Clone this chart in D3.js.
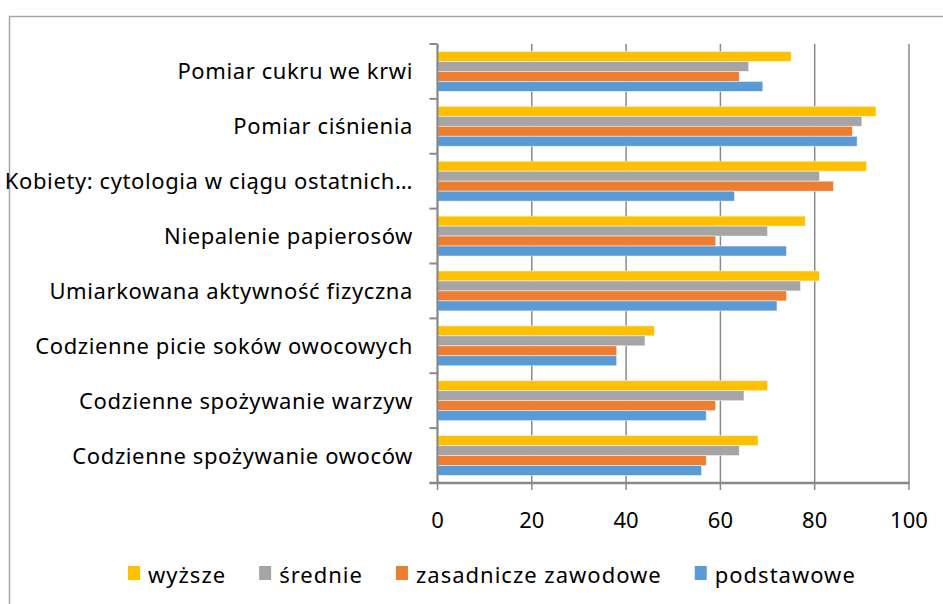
<!DOCTYPE html>
<html>
<head>
<meta charset="utf-8">
<script src="https://cdn.jsdelivr.net/npm/d3@7"></script>
<style>
  body { margin: 0; background: #fff; }
  svg { display: block; }
  text { font-family: "Noto Sans", "Open Sans", sans-serif; fill: #000; }
</style>
</head>
<body>
<svg width="943" height="604"></svg>
<script>
const categories = [
  "Pomiar cukru we krwi",
  "Pomiar ciśnienia",
  "Kobiety: cytologia w ciągu ostatnich…",
  "Niepalenie papierosów",
  "Umiarkowana aktywność fizyczna",
  "Codzienne picie soków owocowych",
  "Codzienne spożywanie warzyw",
  "Codzienne spożywanie owoców"
];

const seriesNames = ["wyższe", "średnie", "zasadnicze zawodowe", "podstawowe"];
const seriesColors = ["#FFC000", "#A5A5A5", "#ED7D31", "#5B9BD5"];

const wyzsze = [75, 93, 91, 78, 81, 46, 70, 68];
const srednie = [66, 90, 81, 70, 77, 44, 65, 64];
const zasadnicze = [64, 88, 84, 59, 74, 38, 59, 57];
const podstawowe = [69, 89, 63, 74, 72, 38, 57, 56];

const xTicks = [0, 20, 40, 60, 80, 100];

const seriesValues = [wyzsze, srednie, zasadnicze, podstawowe];

const svg = d3.select("svg");

// outer frame, runs off the right and bottom edge
svg.append("rect")
  .attr("x", 9.5)
  .attr("y", 16.5)
  .attr("width", 1000)
  .attr("height", 700)
  .attr("fill", "none")
  .attr("stroke", "#a6a6a6")
  .attr("stroke-width", 1.5);

const x = d3.scaleLinear().domain([0, 100]).range([437.5, 909]);
const y = d3.scaleBand().domain(categories).range([44, 483]);
const yInner = d3.scaleBand()
  .domain(seriesNames)
  .range([0, y.bandwidth()])
  .paddingOuter(0.75);

// vertical gridlines (also serve as x ticks below the axis)
svg.append("g")
  .selectAll("line")
  .data(xTicks)
  .join("line")
  .attr("x1", (d) => x(d))
  .attr("x2", (d) => x(d))
  .attr("y1", 44)
  .attr("y2", 490)
  .attr("stroke", "#898989")
  .attr("stroke-width", 1.5);

// bars
const groups = svg.append("g")
  .selectAll("g")
  .data(categories)
  .join("g")
  .attr("transform", (d) => `translate(0,${y(d)})`);

groups.selectAll("rect")
  .data((d, i) => seriesNames.map((s, j) => ({ s, j, v: seriesValues[j][i] })))
  .join("rect")
  .attr("x", x(0))
  .attr("y", (d) => yInner(d.s))
  .attr("width", (d) => x(d.v) - x(0))
  .attr("height", yInner.bandwidth())
  .attr("fill", (d) => seriesColors[d.j])
  .attr("stroke", "#fff")
  .attr("stroke-opacity", 0.6)
  .attr("stroke-width", 0.8);

// y axis
const yAxis = svg.append("g").attr("transform", `translate(${x(0)},0)`);
yAxis.append("line")
  .attr("y1", 44).attr("y2", 483)
  .attr("stroke", "#898989").attr("stroke-width", 2);
yAxis.selectAll("line.tick")
  .data(categories.map((c) => y(c)).concat([483]))
  .join("line")
  .attr("class", "tick")
  .attr("x1", -8).attr("x2", 0)
  .attr("y1", (d) => d).attr("y2", (d) => d)
  .attr("stroke", "#898989").attr("stroke-width", 2);

// category labels
svg.append("g")
  .selectAll("text")
  .data(categories)
  .join("text")
  .attr("x", 413)
  .attr("y", (d) => y(d) + y.bandwidth() / 2 + 8)
  .attr("text-anchor", "end")
  .attr("font-size", 22)
  .attr("letter-spacing", 0.6)
  .text((d) => d);

// x axis
svg.append("line")
  .attr("x1", x(0) - 8).attr("x2", x(100))
  .attr("y1", 483).attr("y2", 483)
  .attr("stroke", "#898989").attr("stroke-width", 2.5);

svg.append("g")
  .selectAll("text")
  .data(xTicks)
  .join("text")
  .attr("x", (d) => x(d))
  .attr("y", 528)
  .attr("text-anchor", "middle")
  .attr("font-size", 22)
  .text((d) => d);

// legend
const legend = svg.append("g");
let lx = 128;
seriesNames.forEach((name, i) => {
  legend.append("rect")
    .attr("x", lx).attr("y", 566)
    .attr("width", 12).attr("height", 14)
    .attr("fill", seriesColors[i]);
  const t = legend.append("text")
    .attr("x", lx + 20).attr("y", 583)
    .attr("font-size", 22)
    .attr("letter-spacing", 1)
    .text(name);
  lx += 20 + t.node().getComputedTextLength() + 33;
});
</script>
</body>
</html>
